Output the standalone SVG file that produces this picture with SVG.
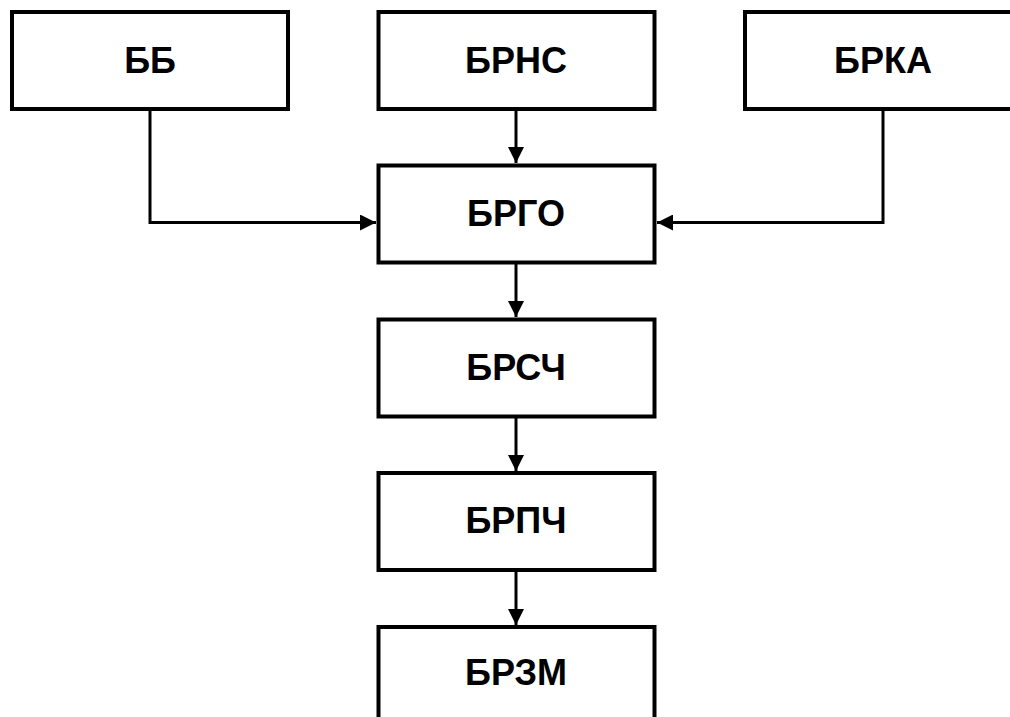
<svg xmlns="http://www.w3.org/2000/svg" width="1010" height="717" viewBox="0 0 1010 717">
<style>
.box{fill:#fff;stroke:#000;stroke-width:4}
.lbl{font-family:"Liberation Sans",Arial,sans-serif;font-weight:bold;font-size:36px;fill:#000;text-anchor:middle}
.con{fill:none;stroke:#000;stroke-width:3}
</style>
<defs>
<marker id="ah" markerUnits="userSpaceOnUse" markerWidth="16" markerHeight="16" viewBox="0 0 16 16" refX="16" refY="8" orient="auto">
<path d="M0,0 L16,8 L0,16 Z" fill="#000"/>
</marker>
</defs>
<rect width="1010" height="717" fill="#fff"/>
<g id="connectors">
<path class="con" d="M150,111 V222.5 H376" marker-end="url(#ah)"/>
<path class="con" d="M883,111 V222.5 H657" marker-end="url(#ah)"/>
<path class="con" d="M516,111 V163" marker-end="url(#ah)"/>
<path class="con" d="M516,264 V317" marker-end="url(#ah)"/>
<path class="con" d="M516,418 V471" marker-end="url(#ah)"/>
<path class="con" d="M516,572 V625" marker-end="url(#ah)"/>
</g>
<g id="n-bb"><rect class="box" x="12" y="12" width="276" height="97"/><text class="lbl" x="150" y="73">ББ</text></g>
<g id="n-brns"><rect class="box" x="378.5" y="12" width="276" height="97"/><text class="lbl" x="516" y="73">БРНС</text></g>
<g id="n-brka"><rect class="box" x="745" y="12" width="276" height="97"/><text class="lbl" x="883" y="73">БРКА</text></g>
<g id="n-brgo"><rect class="box" x="378.5" y="165.5" width="276" height="97"/><text class="lbl" x="516" y="226">БРГО</text></g>
<g id="n-brsch"><rect class="box" x="378.5" y="319.5" width="276" height="97"/><text class="lbl" x="516" y="380">БРСЧ</text></g>
<g id="n-brpch"><rect class="box" x="378.5" y="473" width="276" height="97"/><text class="lbl" x="516" y="533">БРПЧ</text></g>
<g id="n-brzm"><rect class="box" x="378.5" y="627" width="276" height="97"/><text class="lbl" x="516" y="685">БРЗМ</text></g>
</svg>
